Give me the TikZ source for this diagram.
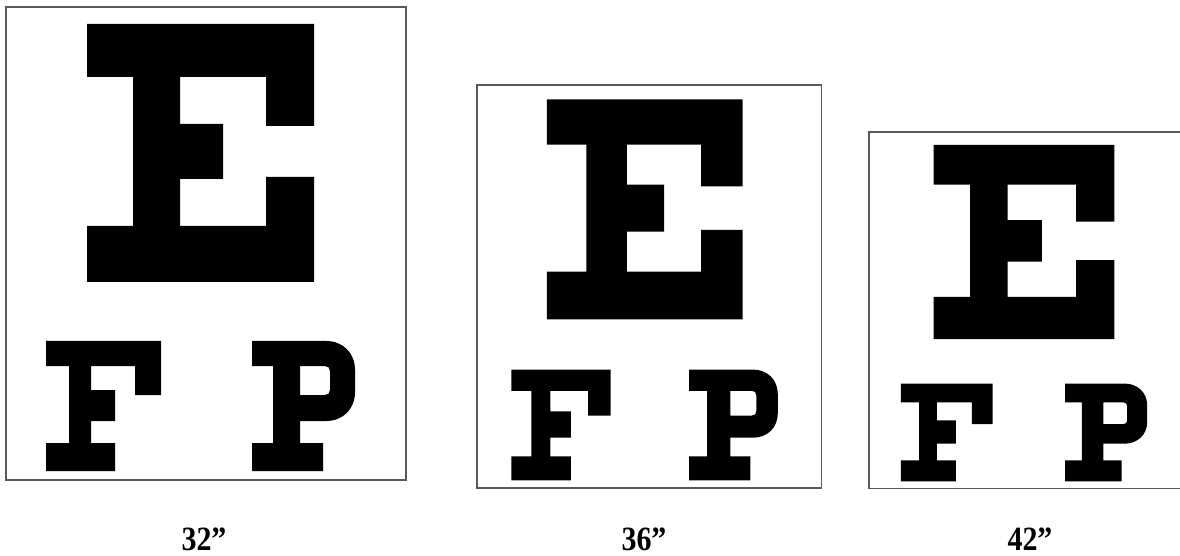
\documentclass[tikz,border=0pt]{standalone}
\usepackage{fontspec}
\setmainfont{Liberation Serif}

\newcommand{\eyechart}{%
  \draw[chartbox] (0,0) rectangle (400,473);
  % big E
  \fill (81,17) -- (308,17) -- (308,119) -- (260,119) -- (260,70) -- (174,70) -- (174,117) -- (217,117) -- (217,172) -- (174,172) -- (174,219) -- (260,219) -- (260,170) -- (308,170) -- (308,275) -- (81,275) -- (81,219) -- (127,219) -- (127,70) -- (81,70) -- cycle;
  % F
  \fill (40,334) -- (155,334) -- (155,388) -- (129,388) -- (129,359) -- (85,359) -- (85,383) -- (109,383) -- (109,414) -- (85,414) -- (85,436) -- (109,436) -- (109,464) -- (40,464) -- (40,436) -- (63,436) -- (63,359) -- (40,359) -- cycle;
  % P
  \fill[even odd rule] (246,334) -- (320,334) .. controls (337,334) and (349,346) .. (349,363) -- (349,385) .. controls (349,402) and (337,414) .. (320,414) -- (294,414) -- (294,436) -- (317,436) -- (317,464) -- (246,464) -- (246,436) -- (267,436) -- (267,359) -- (246,359) -- cycle
    (294,359) -- (319,359) .. controls (322,359) and (324,361) .. (324,364) -- (324,383) .. controls (324,386) and (322,388) .. (319,388) -- (294,388) -- cycle;
}

\begin{document}
\begin{tikzpicture}[x=0.5pt, y=-0.5pt,
  chartbox/.style={draw=black!65, line width=0.6pt},
  size/.style={anchor=base, inner sep=0pt, xscale=0.88, transform shape,
    font=\fontsize{17}{20}\selectfont\bfseries}]
\useasboundingbox (0,0) rectangle (1180,556);
\clip (0,0) rectangle (1180,556);

\begin{scope}[shift={(6,7)}]
  \eyechart
\end{scope}
\begin{scope}[shift={(477,85)}, xscale=0.862, yscale=0.852]
  \eyechart
\end{scope}
\begin{scope}[shift={(869,132)}, xscale=0.797, yscale=0.753]
  \eyechart
\end{scope}

\node (size32) [size] at (204,550) {32”};
\node (size36) [size] at (644,550) {36”};
\node (size42) [size] at (1030,550) {42”};
\end{tikzpicture}
\end{document}
